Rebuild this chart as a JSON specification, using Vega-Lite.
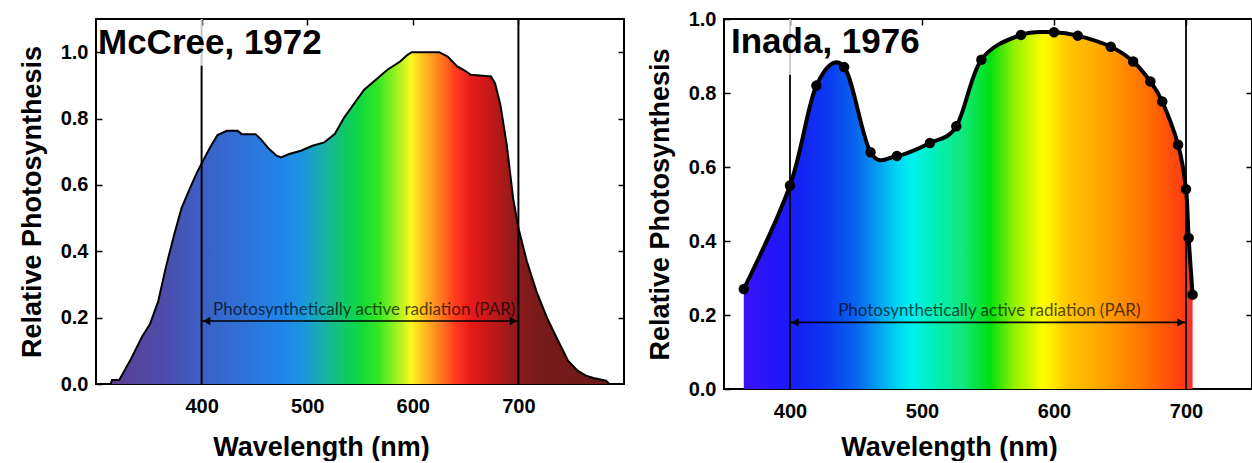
{
  "$schema": "https://vega.github.io/schema/vega-lite/v6.json",
  "background": "white",
  "padding": {"left": 17, "top": 8, "right": 0, "bottom": 0},
  "spacing": 19,
  "config": {
    "view": {"stroke": "black", "strokeWidth": 2},
    "font": "Liberation Sans",
    "axis": {
      "labelFont": "Liberation Sans",
      "labelFontWeight": "bold",
      "labelFontSize": 20,
      "labelColor": "black",
      "titleFont": "Liberation Sans",
      "titleFontWeight": "bold",
      "titleFontSize": 27,
      "titleColor": "black",
      "domain": false,
      "grid": false,
      "tickColor": "black",
      "tickSize": -6,
      "tickWidth": 1.5
    }
  },
  "datasets": {
    "mccree": [
      {"nm": 314, "value": 0.0}, {"nm": 315, "value": 0.012}, {"nm": 322, "value": 0.012},
      {"nm": 326, "value": 0.035}, {"nm": 333, "value": 0.075}, {"nm": 344, "value": 0.145},
      {"nm": 351, "value": 0.18}, {"nm": 359, "value": 0.25}, {"nm": 366, "value": 0.35},
      {"nm": 374, "value": 0.45}, {"nm": 381, "value": 0.53}, {"nm": 389, "value": 0.59},
      {"nm": 396, "value": 0.64}, {"nm": 400, "value": 0.665}, {"nm": 408, "value": 0.713},
      {"nm": 415, "value": 0.75}, {"nm": 424, "value": 0.763}, {"nm": 434, "value": 0.763},
      {"nm": 438, "value": 0.753}, {"nm": 451, "value": 0.753}, {"nm": 456, "value": 0.738},
      {"nm": 464, "value": 0.708}, {"nm": 471, "value": 0.688}, {"nm": 475, "value": 0.683},
      {"nm": 483, "value": 0.693}, {"nm": 494, "value": 0.703}, {"nm": 505, "value": 0.718},
      {"nm": 516, "value": 0.728}, {"nm": 526, "value": 0.753}, {"nm": 535, "value": 0.803},
      {"nm": 546, "value": 0.852}, {"nm": 554, "value": 0.887}, {"nm": 565, "value": 0.917},
      {"nm": 576, "value": 0.947}, {"nm": 588, "value": 0.972}, {"nm": 595, "value": 0.992},
      {"nm": 599, "value": 1.0}, {"nm": 625, "value": 1.0}, {"nm": 633, "value": 0.987},
      {"nm": 642, "value": 0.957}, {"nm": 648, "value": 0.947}, {"nm": 655, "value": 0.932},
      {"nm": 674, "value": 0.927}, {"nm": 678, "value": 0.905}, {"nm": 683, "value": 0.84},
      {"nm": 689, "value": 0.72}, {"nm": 695, "value": 0.56}, {"nm": 700, "value": 0.47},
      {"nm": 708, "value": 0.37}, {"nm": 717, "value": 0.28}, {"nm": 727, "value": 0.2},
      {"nm": 737, "value": 0.134}, {"nm": 747, "value": 0.07}, {"nm": 756, "value": 0.04},
      {"nm": 764, "value": 0.025}, {"nm": 771, "value": 0.018}, {"nm": 783, "value": 0.01},
      {"nm": 786, "value": 0.0}
    ],
    "inada": [
      {"nm": 365, "value": 0.27}, {"nm": 400, "value": 0.55}, {"nm": 420, "value": 0.82},
      {"nm": 441, "value": 0.87}, {"nm": 461, "value": 0.64}, {"nm": 481, "value": 0.63},
      {"nm": 506, "value": 0.665}, {"nm": 526, "value": 0.71}, {"nm": 545, "value": 0.89},
      {"nm": 575, "value": 0.957}, {"nm": 600, "value": 0.964}, {"nm": 618, "value": 0.955},
      {"nm": 643, "value": 0.925}, {"nm": 660, "value": 0.885}, {"nm": 673, "value": 0.831},
      {"nm": 682, "value": 0.777}, {"nm": 694, "value": 0.66}, {"nm": 700, "value": 0.54},
      {"nm": 702, "value": 0.408}, {"nm": 705, "value": 0.255}
    ],
    "par": [
      {"from": 400, "to": 700, "label": "Photosynthetically active radiation (PAR)"}
    ]
  },
  "hconcat": [
    {
      "width": 528,
      "height": 365,
      "resolve": {"axis": {"x": "independent", "y": "independent"}},
      "layer": [
        {
          "data": {"name": "mccree"},
          "mark": {
            "type": "area",
            "color": {
              "gradient": "linear", "x1": 0, "x2": 1, "y1": 0, "y2": 0,
              "stops": [
                {"offset": 0.0, "color": "#5a3e90"},
                {"offset": 0.097, "color": "#4e4aa8"},
                {"offset": 0.182, "color": "#3c5fc4"},
                {"offset": 0.267, "color": "#2e72d8"},
                {"offset": 0.341, "color": "#2184ea"},
                {"offset": 0.383, "color": "#1c94e0"},
                {"offset": 0.426, "color": "#18b0a8"},
                {"offset": 0.468, "color": "#10c868"},
                {"offset": 0.5, "color": "#10d840"},
                {"offset": 0.538, "color": "#38e820"},
                {"offset": 0.574, "color": "#a0f020"},
                {"offset": 0.602, "color": "#f8f820"},
                {"offset": 0.627, "color": "#ffc020"},
                {"offset": 0.659, "color": "#ff8020"},
                {"offset": 0.691, "color": "#ff3c1c"},
                {"offset": 0.722, "color": "#e81a1a"},
                {"offset": 0.775, "color": "#b81818"},
                {"offset": 0.818, "color": "#8a1a1a"},
                {"offset": 0.86, "color": "#781a1a"},
                {"offset": 1.0, "color": "#6c1a1a"}
              ]
            }
          },
          "encoding": {
            "x": {
              "field": "nm", "type": "quantitative",
              "scale": {"domain": [300, 800], "nice": false, "zero": false},
              "axis": {"title": "Wavelength (nm)", "values": [400, 500, 600, 700], "labelPadding": 18, "titlePadding": 18, "titleX": 225}
            },
            "y": {
              "field": "value", "type": "quantitative",
              "scale": {"domain": [0, 1.1], "nice": false},
              "axis": {"title": "Relative Photosynthesis", "values": [0, 0.2, 0.4, 0.6, 0.8, 1.0], "format": ".1f", "labelPadding": 14, "titlePadding": 14}
            }
          }
        },
        {
          "data": {"name": "mccree"},
          "mark": {"type": "line", "color": "black", "strokeWidth": 2},
          "encoding": {
            "x": {"field": "nm", "type": "quantitative", "scale": {"domain": [300, 800], "nice": false, "zero": false}, "axis": null},
            "y": {"field": "value", "type": "quantitative", "scale": {"domain": [0, 1.1], "nice": false}, "axis": null}
          }
        },
        {
          "data": {"name": "mccree"},
          "mark": {"type": "point", "opacity": 0},
          "encoding": {
            "x": {"field": "nm", "type": "quantitative", "scale": {"domain": [300, 800], "nice": false, "zero": false},
                  "axis": {"orient": "top", "labels": false, "title": null, "values": [400, 500, 600, 700]}},
            "y": {"field": "value", "type": "quantitative", "scale": {"domain": [0, 1.1], "nice": false},
                  "axis": {"orient": "right", "labels": false, "title": null, "values": [0.2, 0.4, 0.6, 0.8, 1.0]}}
          }
        },
        {
          "data": {"name": "par"},
          "mark": {"type": "rule", "color": "black", "strokeWidth": 2},
          "encoding": {
            "x": {"field": "from", "type": "quantitative", "scale": {"domain": [300, 800], "nice": false, "zero": false}, "axis": null},
            "y": {"datum": 0, "scale": {"domain": [0, 1.1], "nice": false}, "axis": null},
            "y2": {"datum": 0.96}
          }
        },
        {
          "data": {"name": "par"},
          "mark": {"type": "rule", "color": "#c9c9c9", "strokeWidth": 2},
          "encoding": {
            "x": {"field": "from", "type": "quantitative", "scale": {"domain": [300, 800], "nice": false, "zero": false}, "axis": null},
            "y": {"datum": 0.96, "scale": {"domain": [0, 1.1], "nice": false}, "axis": null},
            "y2": {"datum": 1.1}
          }
        },
        {
          "data": {"name": "par"},
          "mark": {"type": "rule", "color": "black", "strokeWidth": 2},
          "encoding": {
            "x": {"field": "to", "type": "quantitative", "scale": {"domain": [300, 800], "nice": false, "zero": false}, "axis": null},
            "y": {"datum": 0, "scale": {"domain": [0, 1.1], "nice": false}, "axis": null},
            "y2": {"datum": 1.1}
          }
        },
        {
          "data": {"name": "par"},
          "mark": {"type": "rule", "color": "black", "strokeWidth": 1.6},
          "encoding": {
            "x": {"field": "from", "type": "quantitative", "scale": {"domain": [300, 800], "nice": false, "zero": false}, "axis": null},
            "x2": {"field": "to"},
            "y": {"datum": 0.19, "scale": {"domain": [0, 1.1], "nice": false}, "axis": null}
          }
        },
        {
          "data": {"name": "par"},
          "mark": {"type": "point", "shape": "triangle-left", "filled": true, "color": "black", "size": 70, "opacity": 1, "xOffset": 5},
          "encoding": {
            "x": {"field": "from", "type": "quantitative", "scale": {"domain": [300, 800], "nice": false, "zero": false}, "axis": null},
            "y": {"datum": 0.19, "scale": {"domain": [0, 1.1], "nice": false}, "axis": null}
          }
        },
        {
          "data": {"name": "par"},
          "mark": {"type": "point", "shape": "triangle-right", "filled": true, "color": "black", "size": 70, "opacity": 1, "xOffset": -5},
          "encoding": {
            "x": {"field": "to", "type": "quantitative", "scale": {"domain": [300, 800], "nice": false, "zero": false}, "axis": null},
            "y": {"datum": 0.19, "scale": {"domain": [0, 1.1], "nice": false}, "axis": null}
          }
        },
        {
          "data": {"name": "par"},
          "mark": {"type": "text", "font": "Lato", "fontSize": 17, "color": "black", "opacity": 0.68, "align": "center", "baseline": "middle"},
          "encoding": {
            "x": {"datum": 554, "scale": {"domain": [300, 800], "nice": false, "zero": false}, "axis": null},
            "y": {"datum": 0.224, "scale": {"domain": [0, 1.1], "nice": false}, "axis": null},
            "text": {"field": "label"}
          }
        },
        {
          "data": {"values": [{"study": "McCree, 1972"}]},
          "mark": {"type": "text", "font": "Liberation Sans", "fontWeight": "bold", "fontSize": 35, "color": "black", "align": "left", "baseline": "alphabetic", "dx": 2},
          "encoding": {
            "x": {"datum": 300, "scale": {"domain": [300, 800], "nice": false, "zero": false}, "axis": null},
            "y": {"datum": 0.995, "scale": {"domain": [0, 1.1], "nice": false}, "axis": null},
            "text": {"field": "study"}
          }
        }
      ]
    },
    {
      "width": 528,
      "height": 370,
      "resolve": {"axis": {"x": "independent", "y": "independent"}},
      "layer": [
        {
          "data": {"name": "inada"},
          "mark": {
            "type": "area",
            "interpolate": "cardinal",
            "color": {
              "gradient": "linear", "x1": 0, "x2": 1, "y1": 0, "y2": 0,
              "stops": [
                {"offset": 0.0, "color": "#3a14f5"},
                {"offset": 0.073, "color": "#2216fa"},
                {"offset": 0.132, "color": "#1424f4"},
                {"offset": 0.191, "color": "#0a3cf0"},
                {"offset": 0.25, "color": "#0864ee"},
                {"offset": 0.294, "color": "#0898f0"},
                {"offset": 0.338, "color": "#00d0f0"},
                {"offset": 0.373, "color": "#00f0f0"},
                {"offset": 0.426, "color": "#00f0b8"},
                {"offset": 0.485, "color": "#10e880"},
                {"offset": 0.549, "color": "#00e010"},
                {"offset": 0.602, "color": "#90f000"},
                {"offset": 0.667, "color": "#ffff00"},
                {"offset": 0.72, "color": "#ffc800"},
                {"offset": 0.808, "color": "#ffa000"},
                {"offset": 0.896, "color": "#ff7000"},
                {"offset": 0.979, "color": "#ff3c10"},
                {"offset": 1.0, "color": "#f03030"}
              ]
            }
          },
          "encoding": {
            "x": {
              "field": "nm", "type": "quantitative",
              "scale": {"domain": [350, 750], "nice": false, "zero": false},
              "axis": {"title": "Wavelength (nm)", "values": [400, 500, 600, 700], "labelPadding": 18, "titlePadding": 13, "titleX": 225}
            },
            "y": {
              "field": "value", "type": "quantitative",
              "scale": {"domain": [0, 1], "nice": false},
              "axis": {"title": "Relative Photosynthesis", "values": [0, 0.2, 0.4, 0.6, 0.8, 1.0], "format": ".1f", "labelPadding": 14, "titlePadding": 14}
            }
          }
        },
        {
          "data": {"name": "inada"},
          "mark": {"type": "point", "opacity": 0},
          "encoding": {
            "x": {"field": "nm", "type": "quantitative", "scale": {"domain": [350, 750], "nice": false, "zero": false},
                  "axis": {"orient": "top", "labels": false, "title": null, "values": [400, 500, 600, 700]}},
            "y": {"field": "value", "type": "quantitative", "scale": {"domain": [0, 1], "nice": false},
                  "axis": {"orient": "right", "labels": false, "title": null, "values": [0.2, 0.4, 0.6, 0.8]}}
          }
        },
        {
          "data": {"name": "par"},
          "mark": {"type": "rule", "color": "black", "strokeWidth": 1.8},
          "encoding": {
            "x": {"field": "from", "type": "quantitative", "scale": {"domain": [350, 750], "nice": false, "zero": false}, "axis": null},
            "y": {"datum": 0, "scale": {"domain": [0, 1], "nice": false}, "axis": null},
            "y2": {"datum": 0.85}
          }
        },
        {
          "data": {"name": "par"},
          "mark": {"type": "rule", "color": "#c9c9c9", "strokeWidth": 1.8},
          "encoding": {
            "x": {"field": "from", "type": "quantitative", "scale": {"domain": [350, 750], "nice": false, "zero": false}, "axis": null},
            "y": {"datum": 0.85, "scale": {"domain": [0, 1], "nice": false}, "axis": null},
            "y2": {"datum": 1}
          }
        },
        {
          "data": {"name": "par"},
          "mark": {"type": "rule", "color": "black", "strokeWidth": 1.8},
          "encoding": {
            "x": {"field": "to", "type": "quantitative", "scale": {"domain": [350, 750], "nice": false, "zero": false}, "axis": null},
            "y": {"datum": 0, "scale": {"domain": [0, 1], "nice": false}, "axis": null},
            "y2": {"datum": 1}
          }
        },
        {
          "data": {"name": "inada"},
          "mark": {"type": "line", "interpolate": "cardinal", "color": "black", "strokeWidth": 4},
          "encoding": {
            "x": {"field": "nm", "type": "quantitative", "scale": {"domain": [350, 750], "nice": false, "zero": false}, "axis": null},
            "y": {"field": "value", "type": "quantitative", "scale": {"domain": [0, 1], "nice": false}, "axis": null}
          }
        },
        {
          "data": {"name": "inada"},
          "mark": {"type": "circle", "color": "black", "size": 110, "opacity": 1},
          "encoding": {
            "x": {"field": "nm", "type": "quantitative", "scale": {"domain": [350, 750], "nice": false, "zero": false}, "axis": null},
            "y": {"field": "value", "type": "quantitative", "scale": {"domain": [0, 1], "nice": false}, "axis": null}
          }
        },
        {
          "data": {"name": "par"},
          "mark": {"type": "rule", "color": "black", "strokeWidth": 1.6},
          "encoding": {
            "x": {"field": "from", "type": "quantitative", "scale": {"domain": [350, 750], "nice": false, "zero": false}, "axis": null},
            "x2": {"field": "to"},
            "y": {"datum": 0.18, "scale": {"domain": [0, 1], "nice": false}, "axis": null}
          }
        },
        {
          "data": {"name": "par"},
          "mark": {"type": "point", "shape": "triangle-left", "filled": true, "color": "black", "size": 70, "opacity": 1, "xOffset": 5},
          "encoding": {
            "x": {"field": "from", "type": "quantitative", "scale": {"domain": [350, 750], "nice": false, "zero": false}, "axis": null},
            "y": {"datum": 0.18, "scale": {"domain": [0, 1], "nice": false}, "axis": null}
          }
        },
        {
          "data": {"name": "par"},
          "mark": {"type": "point", "shape": "triangle-right", "filled": true, "color": "black", "size": 70, "opacity": 1, "xOffset": -5},
          "encoding": {
            "x": {"field": "to", "type": "quantitative", "scale": {"domain": [350, 750], "nice": false, "zero": false}, "axis": null},
            "y": {"datum": 0.18, "scale": {"domain": [0, 1], "nice": false}, "axis": null}
          }
        },
        {
          "data": {"name": "par"},
          "mark": {"type": "text", "font": "Lato", "fontSize": 17, "color": "black", "opacity": 0.68, "align": "center", "baseline": "middle"},
          "encoding": {
            "x": {"datum": 551, "scale": {"domain": [350, 750], "nice": false, "zero": false}, "axis": null},
            "y": {"datum": 0.21, "scale": {"domain": [0, 1], "nice": false}, "axis": null},
            "text": {"field": "label"}
          }
        },
        {
          "data": {"values": [{"study": "Inada, 1976"}]},
          "mark": {"type": "text", "font": "Liberation Sans", "fontWeight": "bold", "fontSize": 35, "color": "black", "align": "left", "baseline": "alphabetic", "dx": 7},
          "encoding": {
            "x": {"datum": 350, "scale": {"domain": [350, 750], "nice": false, "zero": false}, "axis": null},
            "y": {"datum": 0.908, "scale": {"domain": [0, 1], "nice": false}, "axis": null},
            "text": {"field": "study"}
          }
        }
      ]
    }
  ]
}
